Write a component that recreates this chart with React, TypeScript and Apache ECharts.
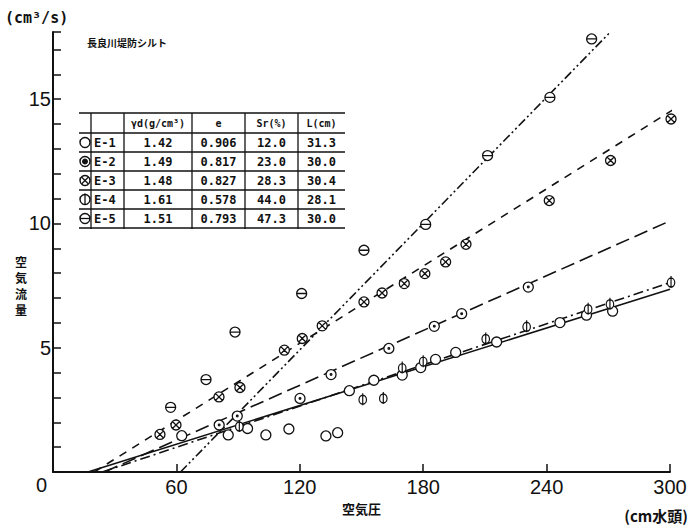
import React, { useEffect, useRef } from "react";
import * as echarts from "echarts";

// ---- data ----
const xTickValues = [0, 60, 120, 180, 240, 300];
const yLabelValues = [0, 5, 10, 15];

const sampleNames = ["E-1", "E-2", "E-3", "E-4", "E-5"];
const tableHeaders = ["γd(g/cm³)", "e", "Sr(%)", "L(cm)"];
const dryDensity = [1.42, 1.49, 1.48, 1.61, 1.51];
const voidRatio = [0.906, 0.817, 0.827, 0.578, 0.793];
const saturation = [12.0, 23.0, 28.3, 44.0, 47.3];
const specimenLength = [31.3, 30.0, 30.4, 28.1, 30.0];

const e1Points = [
  [62.6, 1.46], [85.2, 1.49], [94.6, 1.75], [103.5, 1.49], [114.7, 1.73],
  [132.7, 1.45], [138.4, 1.58], [144.1, 3.27], [156, 3.69], [169.8, 3.9],
  [178.8, 4.2], [186, 4.53], [195.8, 4.81], [215.7, 5.23], [246.5, 6.01],
  [259.4, 6.31], [272.1, 6.47],
];
const e2Points = [
  [80.8, 1.89], [89.6, 2.25], [120.1, 2.96], [135.2, 3.92], [163.3, 4.97],
  [185.4, 5.86], [198.7, 6.37], [231.1, 7.44],
];
const e3Points = [
  [52, 1.51], [59.8, 1.89], [80.7, 3.02], [90.9, 3.4], [112.5, 4.9],
  [121.2, 5.37], [130.9, 5.88], [151.2, 6.84], [160, 7.2], [170.8, 7.58],
  [180.8, 7.98], [190.9, 8.45], [200.8, 9.16], [241.3, 10.92], [271.1, 12.53],
  [300.5, 14.2],
];
const e4Points = [
  [90.6, 1.85], [150.6, 2.93], [160.6, 2.98], [169.8, 4.2], [180, 4.46],
  [210.4, 5.37], [230.3, 5.86], [260.2, 6.57], [270.8, 6.77], [300.5, 7.64],
];
const e5Points = [
  [57.2, 2.6], [74.4, 3.72], [88.5, 5.63], [120.9, 7.18], [151.2, 8.92],
  [181.2, 9.96], [211.3, 12.73], [241.6, 15.07], [261.9, 17.42],
];

// fitted lines (start, end)
const e1Line = [[17, 0], [300, 7.35]];
const e2Line = [[25, 0], [300, 10.1]];
const e3Line = [[20, 0], [302, 14.6]];
const e4Line = [[24, 0], [300, 7.62]];
const e5Line = [[62, 0], [271, 17.7]];

// ---- styling ----
const INK = "#111";
const CIRC = "M1 10A9 9 0 1 0 19 10A9 9 0 1 0 1 10Z";
const SYM_OPEN = "path://" + CIRC;
const SYM_DOT = "path://" + CIRC + "M8.5 10A1.5 1.5 0 1 0 11.5 10A1.5 1.5 0 1 0 8.5 10Z";
const SYM_CROSS = "path://" + CIRC + "M3.6 3.6L16.4 16.4M16.4 3.6L3.6 16.4";
const SYM_PHI = "path://" + CIRC + "M10 -3L10 21";
const SYM_THETA = "path://" + CIRC + "M1 10L19 10";

const seriesDefs = [
  { name: sampleNames[0], points: e1Points, line: e1Line, symbol: SYM_OPEN, size: [10, 10], dash: "solid" as any },
  { name: sampleNames[1], points: e2Points, line: e2Line, symbol: SYM_DOT, size: [10, 10], dash: [14, 6] },
  { name: sampleNames[2], points: e3Points, line: e3Line, symbol: SYM_CROSS, size: [10, 10], dash: [8, 7] },
  { name: sampleNames[3], points: e4Points, line: e4Line, symbol: SYM_PHI, size: [10, 12], dash: [10, 4, 2, 4] },
  { name: sampleNames[4], points: e5Points, line: e5Line, symbol: SYM_THETA, size: [10, 10], dash: [9, 3, 2, 3, 2, 3] },
];

// table layout
const colX = [79, 91, 124, 192, 245, 298, 345];
const tableTop = 113;
const headerH = 20;
const rowH = 19;

function buildTableGraphics() {
  const els: any[] = [];
  const nRows = sampleNames.length;
  const bottom = tableTop + headerH + rowH * nRows;
  const lineStyle = { stroke: INK, lineWidth: 1.3 };
  // horizontal lines
  const ys = [tableTop, tableTop + headerH];
  for (let i = 1; i <= nRows; i++) ys.push(tableTop + headerH + rowH * i);
  ys.forEach((y) =>
    els.push({ type: "line", silent: true, shape: { x1: colX[0], y1: y, x2: colX[6], y2: y }, style: lineStyle })
  );
  // vertical lines
  for (let c = 1; c <= 5; c++) {
    els.push({ type: "line", silent: true, shape: { x1: colX[c], y1: tableTop, x2: colX[c], y2: bottom + 1 }, style: lineStyle });
  }
  const mono = "'DejaVu Sans Mono', monospace";
  // headers
  tableHeaders.forEach((h, i) => {
    els.push({
      type: "text", silent: true,
      x: (colX[i + 2] + colX[i + 3]) / 2, y: tableTop + headerH / 2,
      style: { text: h, fontSize: 10, fontFamily: mono, fontWeight: "bold", fill: INK, align: "center", verticalAlign: "middle" },
    });
  });
  const columns = [
    dryDensity.map((v) => v.toFixed(2)),
    voidRatio.map((v) => v.toFixed(3)),
    saturation.map((v) => v.toFixed(1)),
    specimenLength.map((v) => v.toFixed(1)),
  ];
  sampleNames.forEach((name, r) => {
    const cy = tableTop + headerH + rowH * r + rowH / 2;
    els.push({
      type: "text", silent: true, x: colX[1] + 3, y: cy,
      style: { text: name, fontSize: 12, fontFamily: mono, fontWeight: "bold", fill: INK, align: "left", verticalAlign: "middle" },
    });
    columns.forEach((col, c) => {
      els.push({
        type: "text", silent: true, x: (colX[c + 2] + colX[c + 3]) / 2, y: cy,
        style: { text: col[r], fontSize: 12, fontFamily: mono, fontWeight: "bold", fill: INK, align: "center", verticalAlign: "middle" },
      });
    });
    // symbol
    const cx = 85;
    const rr = 5;
    els.push({ type: "circle", silent: true, shape: { cx, cy, r: rr }, style: { fill: "#fff", stroke: INK, lineWidth: 1.4 } });
    if (r === 1) {
      els.push({ type: "circle", silent: true, shape: { cx, cy, r: 3 }, style: { fill: INK } });
    } else if (r === 2) {
      const d = rr * 0.7;
      els.push({ type: "line", silent: true, shape: { x1: cx - d, y1: cy - d, x2: cx + d, y2: cy + d }, style: { stroke: INK, lineWidth: 1.2 } });
      els.push({ type: "line", silent: true, shape: { x1: cx + d, y1: cy - d, x2: cx - d, y2: cy + d }, style: { stroke: INK, lineWidth: 1.2 } });
    } else if (r === 3) {
      els.push({ type: "line", silent: true, shape: { x1: cx, y1: cy - rr - 1, x2: cx, y2: cy + rr }, style: { stroke: INK, lineWidth: 1.3 } });
    } else if (r === 4) {
      els.push({ type: "line", silent: true, shape: { x1: cx - rr, y1: cy, x2: cx + rr, y2: cy }, style: { stroke: INK, lineWidth: 1.3 } });
    }
  });
  return els;
}

export default function App() {
  const ref = useRef<HTMLDivElement>(null);

  useEffect(() => {
    document.body.style.margin = "0";
    if (!ref.current) return;
    const chart = echarts.init(ref.current, undefined, { renderer: "svg" });
    const tickFont = "'Liberation Sans', Arial, sans-serif";
    const cjk = "'Noto Sans CJK JP', sans-serif";

    const series: any[] = [];
    seriesDefs.forEach((d) => {
      series.push({
        name: d.name,
        type: "line",
        data: d.line,
        showSymbol: false,
        symbol: "none",
        clip: false,
        z: 2,
        lineStyle: { color: INK, width: 1.6, type: d.dash },
        silent: true,
      });
    });
    seriesDefs.forEach((d) => {
      series.push({
        name: d.name,
        type: "scatter",
        data: d.points,
        symbol: d.symbol,
        symbolSize: d.size,
        symbolKeepAspect: true,
        clip: false,
        z: 3,
        itemStyle: { color: "#fff", borderColor: INK, borderWidth: 1.3, opacity: 1 },
        silent: true,
      });
    });

    const graphics: any[] = [
      {
        type: "text", silent: true, x: 5, y: 18,
        style: { text: "(cm³/s)", fontSize: 15, fontWeight: "bold", fontFamily: "'DejaVu Sans Mono', monospace", fill: INK, align: "left", verticalAlign: "middle" },
      },
      {
        type: "text", silent: true, x: 87, y: 42,
        style: { text: "長良川堤防シルト", fontSize: 10, fontWeight: "bold", fontFamily: cjk, fill: INK, align: "left", verticalAlign: "middle" },
      },
      {
        type: "text", silent: true, x: 21, y: 285,
        style: { text: "空\n気\n流\n量", fontSize: 12, lineHeight: 16, fontWeight: "bold", fontFamily: cjk, fill: INK, align: "center", verticalAlign: "middle" },
      },
      {
        type: "text", silent: true, x: 688, y: 515,
        style: { text: "(cm水頭)", fontSize: 15, fontWeight: "bold", fontFamily: cjk, fill: INK, align: "right", verticalAlign: "middle" },
      },
      ...buildTableGraphics(),
    ];

    chart.setOption({
      animation: false,
      backgroundColor: "#fff",
      grid: { left: 53, right: 20, top: 32, bottom: 57, containLabel: false },
      xAxis: {
        type: "value",
        min: xTickValues[0],
        max: xTickValues[xTickValues.length - 1],
        interval: xTickValues[1] - xTickValues[0],
        name: "空気圧",
        nameLocation: "middle",
        nameGap: 25,
        nameTextStyle: { fontSize: 13, fontWeight: "bold", fontFamily: cjk, color: INK },
        axisLine: { show: true, lineStyle: { color: INK, width: 2 } },
        axisTick: { show: true, inside: true, length: 8, lineStyle: { color: INK, width: 1.5 } },
        axisLabel: {
          margin: 5,
          fontSize: 20,
          fontFamily: tickFont,
          color: INK,
          formatter: (v: number) => (v === 0 ? "" : String(v)),
        },
        splitLine: { show: false },
      },
      yAxis: {
        type: "value",
        min: 0,
        max: 17.7,
        interval: 1,
        axisLine: { show: true, lineStyle: { color: INK, width: 2 } },
        axisTick: { show: true, inside: true, length: 8, interval: 0, lineStyle: { color: INK, width: 1.5 } },
        axisLabel: {
          interval: 0,
          margin: 2,
          fontSize: 20,
          fontFamily: tickFont,
          color: INK,
          formatter: (v: number) => {
            if (v === 0) return "{z|0}";
            return yLabelValues.indexOf(v) >= 0 ? String(v) : "";
          },
          rich: {
            z: { fontSize: 20, fontFamily: tickFont, color: INK, padding: [26, 4, 0, 0] },
          },
        },
        splitLine: { show: false },
      },
      series,
      graphic: graphics,
    });

    return () => chart.dispose();
  }, []);

  return (
    <div
      ref={ref}
      style={{ width: 690, height: 529, position: "absolute", left: 0, top: 0, background: "#fff" }}
    />
  );
}
